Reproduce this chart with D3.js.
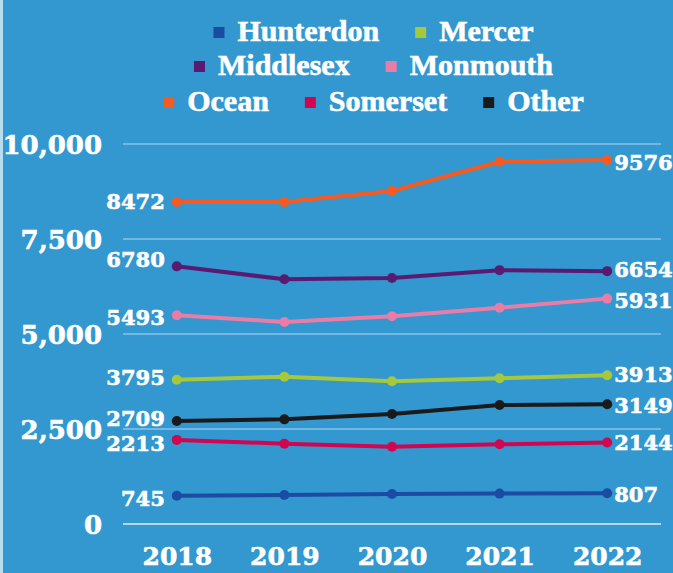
<!DOCTYPE html>
<html>
<head>
  <meta charset="utf-8">
  <title>Counties 2018-2022</title>
  <script src="https://d3js.org/d3.v7.min.js"></script>
  <style>
    body { margin: 0; background: #3298cf; }
    svg { display: block; }
  </style>
</head>
<body>
  <script>
    // data
    var years = ['2018', '2019', '2020', '2021', '2022'];
    var yTicks = [0, 2500, 5000, 7500, 10000];
    var counties = ['Hunterdon', 'Mercer', 'Middlesex', 'Monmouth', 'Ocean', 'Somerset', 'Other'];
    var hunterdon = [745, 763, 789, 800, 807];
    var mercer = [3795, 3877, 3755, 3834, 3913];
    var middlesex = [6780, 6440, 6474, 6680, 6654];
    var monmouth = [5493, 5316, 5465, 5692, 5931];
    var ocean = [8472, 8474, 8763, 9534, 9576];
    var somerset = [2213, 2114, 2035, 2097, 2144];
    var other = [2709, 2754, 2895, 3132, 3149];

    var colors = ['#1b4ca2', '#a5c93a', '#5b1a72', '#ea7ca8', '#f55a22', '#d2064f', '#1a1a1a'];
    // small vertical nudges for the end labels so they don't collide
    var leftNudge = [3, -2, -7, 2, -1, 4, -3];
    var rightNudge = [1, -1, -2, 2, 2, 0, 1];

    var seriesValues = [hunterdon, mercer, middlesex, monmouth, ocean, somerset, other];
    var series = counties.map(function(name, i) {
      return { name: name, color: colors[i], values: seriesValues[i], i: i };
    });

    var width = 673, height = 573;
    var numFont = '"DejaVu Serif", serif';
    var legendFont = '"Liberation Serif", "Times New Roman", serif';

    var svg = d3.select('body').append('svg')
      .attr('width', width)
      .attr('height', height);

    svg.append('rect')
      .attr('width', width).attr('height', height)
      .attr('fill', '#3298cf');
    svg.append('rect')
      .attr('width', 3).attr('height', height)
      .attr('fill', '#b8dcf0');

    var x = d3.scalePoint()
      .domain(years)
      .range([123, 661])
      .padding(0.5);
    var y = d3.scaleLinear()
      .domain([0, 10000])
      .range([524, 144]);

    // heavier white text like the original's slab face
    function whiteText(sel, font, size) {
      sel.attr('fill', '#fff')
        .attr('stroke', '#fff')
        .attr('stroke-width', 0.6)
        .style('font-family', font)
        .style('font-weight', 'bold')
        .style('font-size', size);
    }

    // gridlines
    svg.append('g').selectAll('line')
      .data(yTicks)
      .enter().append('line')
      .attr('x1', 123).attr('x2', 661)
      .attr('y1', function(d) { return y(d); })
      .attr('y2', function(d) { return y(d); })
      .attr('stroke', function(d) { return d === 0 ? '#b3d8ee' : '#72b8e2'; })
      .attr('stroke-width', 2);

    // y axis labels
    var yAxis = d3.axisLeft(y).tickValues(yTicks).tickFormat(d3.format(',')).tickSize(0).tickPadding(0);
    var yAxisG = svg.append('g')
      .attr('transform', 'translate(102,0)')
      .call(yAxis);
    yAxisG.select('.domain').remove();
    yAxisG.selectAll('text')
      .attr('x', 0)
      .attr('dy', '0.36em')
      .call(whiteText, numFont, '26px');

    // x axis labels
    var xAxis = d3.axisBottom(x).tickSize(0).tickPadding(0);
    var xAxisG = svg.append('g')
      .attr('transform', 'translate(0,565)')
      .call(xAxis);
    xAxisG.select('.domain').remove();
    xAxisG.selectAll('text')
      .attr('y', 0)
      .attr('dy', 0)
      .call(whiteText, numFont, '25px');

    // lines
    var line = d3.line()
      .x(function(d, i) { return x(years[i]); })
      .y(function(d) { return y(d); });

    var groups = svg.append('g').selectAll('g')
      .data(series)
      .enter().append('g');

    groups.append('path')
      .attr('d', function(s) { return line(s.values); })
      .attr('fill', 'none')
      .attr('stroke', function(s) { return s.color; })
      .attr('stroke-width', 4)
      .attr('stroke-linejoin', 'round');

    groups.selectAll('circle')
      .data(function(s) { return s.values.map(function(v, i) { return { v: v, i: i, color: s.color }; }); })
      .enter().append('circle')
      .attr('cx', function(d) { return x(years[d.i]); })
      .attr('cy', function(d) { return y(d.v); })
      .attr('r', 5)
      .attr('fill', function(d) { return d.color; });

    // end labels
    var last = years.length - 1;
    groups.append('text')
      .attr('x', x(years[0]) - 12)
      .attr('y', function(s) { return y(s.values[0]) + leftNudge[s.i]; })
      .attr('dy', '0.36em')
      .attr('text-anchor', 'end')
      .call(whiteText, numFont, '21px')
      .text(function(s) { return s.values[0]; });

    groups.append('text')
      .attr('x', x(years[last]) + 7)
      .attr('y', function(s) { return y(s.values[last]) + rightNudge[s.i]; })
      .attr('dy', '0.36em')
      .attr('text-anchor', 'start')
      .call(whiteText, numFont, '21px')
      .text(function(s) { return s.values[last]; });

    // legend: three centred rows
    var legendRows = [[0, 1], [2, 3], [4, 5, 6]];
    var baselines = [41, 75, 111];
    var legendCx = 373.5, box = 11, boxGap = 13, itemGap = 36;
    var legend = svg.append('g');
    legendRows.forEach(function(row, r) {
      var rowG = legend.append('g');
      var cursor = 0;
      row.forEach(function(idx) {
        var s = series[idx];
        rowG.append('rect')
          .attr('x', cursor)
          .attr('y', baselines[r] - 8.5 - box / 2)
          .attr('width', box).attr('height', box)
          .attr('fill', s.color);
        var t = rowG.append('text')
          .attr('x', cursor + box + boxGap)
          .attr('y', baselines[r])
          .call(whiteText, legendFont, '30px')
          .text(s.name);
        cursor += box + boxGap + t.node().getComputedTextLength() + itemGap;
      });
      var rowWidth = cursor - itemGap;
      rowG.attr('transform', 'translate(' + (legendCx - rowWidth / 2) + ',0)');
    });
  </script>
</body>
</html>
